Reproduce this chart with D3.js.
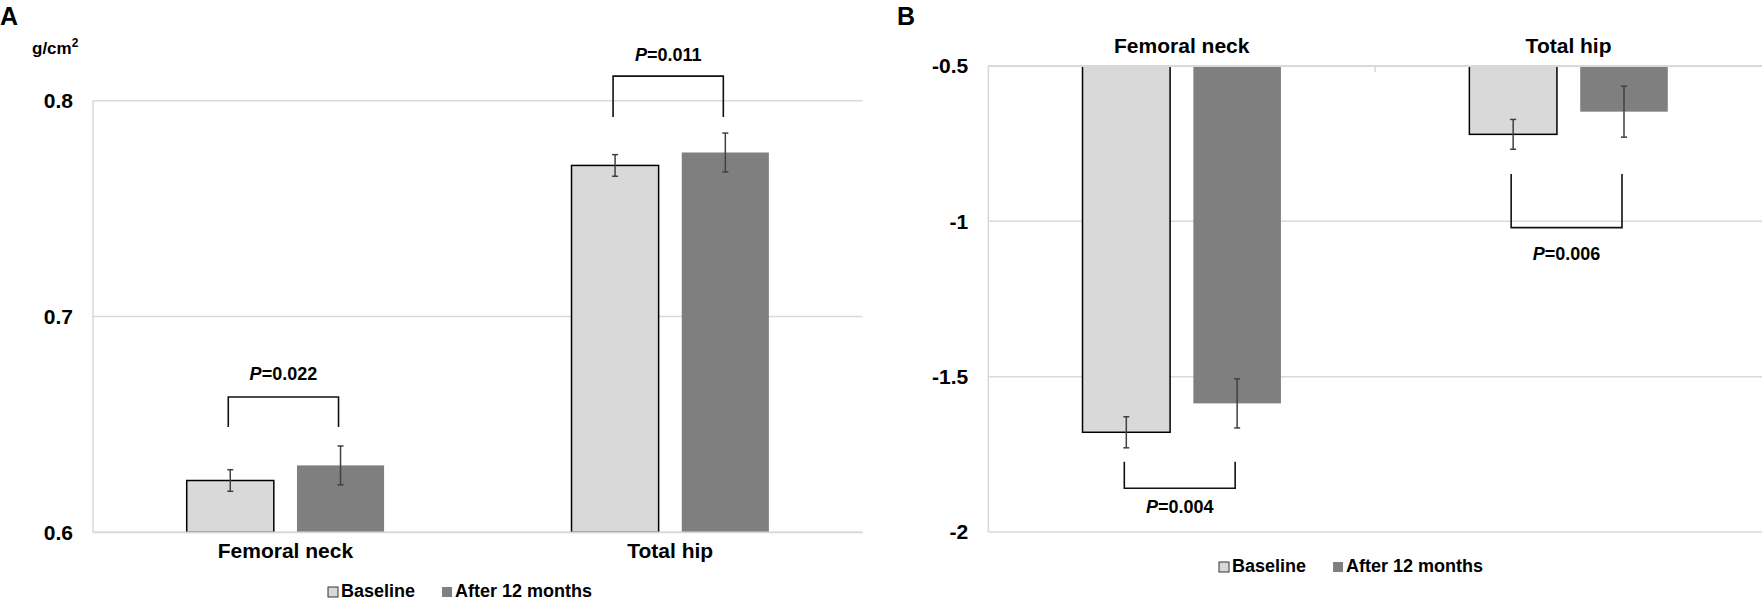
<!DOCTYPE html>
<html lang="en">
<head>
<meta charset="utf-8">
<style>
  body { margin: 0; background: #fff; }
  text { font-family: "Liberation Sans", Arial, sans-serif; font-weight: bold; fill: #000; }
</style>
</head>
<body>
<script type="text/javascript" src="https://d3js.org/d3.v7.min.js"></script>
<script>
    // data
    var categories = ["Femoral neck", "Total hip"];
    var series = ["Baseline", "After 12 months"];

    // A: BMD, g/cm2
    var bmdBaseline = [0.624, 0.770];
    var bmdAfter = [0.631, 0.776];
    var bmdBaselineErr = [0.005, 0.005];
    var bmdAfterErr = [0.009, 0.009];
    var pValuesA = ["0.022", "0.011"];
    var bracketTopA = [0.6627, 0.8114];
    var bracketLegA = [0.6488, 0.7925];
    var ticksA = [0.6, 0.7, 0.8];

    // B: T-score
    var tBaseline = [-1.679, -0.720];
    var tAfter = [-1.586, -0.647];
    var tBaselineErr = [0.050, 0.048];
    var tAfterErr = [0.079, 0.082];
    var pValuesB = ["0.004", "0.006"];
    var bracketLegB = [-1.7736, -0.8476];
    var bracketBottomB = [-1.859, -1.0204];
    var ticksB = [-0.5, -1, -1.5, -2];

    var colors = { "Baseline": "#d9d9d9", "After 12 months": "#7f7f7f" };
    var gridColor = "#d9d9d9";

    var width = 1763, height = 600;

    var svg = d3.select("body").append("svg")
        .attr("width", width)
        .attr("height", height);

    function rows(base, after, baseErr, afterErr) {
        var out = [];
        categories.forEach(function (c, i) {
            out.push({ cat: c, ser: series[0], v: base[i], e: baseErr[i] });
            out.push({ cat: c, ser: series[1], v: after[i], e: afterErr[i] });
        });
        return out;
    }

    function drawPanel(o) {
        var g = svg.append("g");
        var x0 = d3.scaleBand().domain(categories).range([o.left, o.right]);
        var x1 = d3.scaleBand().domain(series).range([0, x0.bandwidth()])
            .paddingInner(0.21).paddingOuter(0.85);
        var y = d3.scaleLinear().domain(o.domain).range([o.bottom, o.top]);
        var base = o.base;

        // gridlines
        g.append("g").selectAll("line")
            .data(o.ticks)
            .enter().append("line")
            .attr("x1", o.left).attr("x2", o.right)
            .attr("y1", function (d) { return y(d); })
            .attr("y2", function (d) { return y(d); })
            .attr("stroke", gridColor).attr("stroke-width", 1.5);

        // vertical axis line
        g.append("line")
            .attr("x1", o.left).attr("x2", o.left)
            .attr("y1", y(o.domain[1])).attr("y2", y(o.domain[0]))
            .attr("stroke", gridColor).attr("stroke-width", 1.5);

        // tick labels
        var yAxis = d3.axisLeft(y).tickValues(o.ticks).tickSize(0).tickPadding(20)
            .tickFormat(function (d) { return String(d); });
        var ya = g.append("g").attr("transform", "translate(" + o.left + ",0)").call(yAxis);
        ya.select(".domain").remove();
        ya.selectAll("text").style("font-size", "21px")
            .style("font-family", "Liberation Sans, Arial, sans-serif").style("font-weight", "bold");

        var data = rows(o.s0, o.s1, o.e0, o.e1);

        // bars
        g.append("g").selectAll("rect")
            .data(data)
            .enter().append("rect")
            .attr("x", function (d) { return x0(d.cat) + x1(d.ser); })
            .attr("width", x1.bandwidth())
            .attr("y", function (d) { return Math.min(y(d.v), y(base)); })
            .attr("height", function (d) { return Math.abs(y(d.v) - y(base)); })
            .attr("fill", function (d) { return colors[d.ser]; })
            .attr("stroke", function (d) { return d.ser === series[0] ? "#000" : "none"; })
            .attr("stroke-width", 1.5);

        // axis line at the base of bars
        g.append("line")
            .attr("x1", o.left).attr("x2", o.right)
            .attr("y1", y(base)).attr("y2", y(base))
            .attr("stroke", gridColor).attr("stroke-width", 1.8);

        if (o.midTick) {
            g.append("line")
                .attr("x1", x0(categories[1])).attr("x2", x0(categories[1]))
                .attr("y1", y(base)).attr("y2", y(base) + 6)
                .attr("stroke", gridColor).attr("stroke-width", 1.5);
        }

        // error bars
        var eb = g.append("g").attr("stroke", "#404040").attr("stroke-width", 1.5);
        data.forEach(function (d) {
            var cx = x0(d.cat) + x1(d.ser) + x1.bandwidth() / 2;
            eb.append("line").attr("x1", cx).attr("x2", cx)
                .attr("y1", y(d.v + d.e)).attr("y2", y(d.v - d.e));
            [d.v + d.e, d.v - d.e].forEach(function (v) {
                eb.append("line").attr("x1", cx - 3).attr("x2", cx + 3)
                    .attr("y1", y(v)).attr("y2", y(v));
            });
        });

        // category labels
        var xAxis = (o.labelsTop ? d3.axisTop(x0) : d3.axisBottom(x0))
            .tickSize(0).tickPadding(o.labelsTop ? 13 : 11);
        var xa = g.append("g")
            .attr("transform", "translate(0," + y(base) + ")")
            .call(xAxis);
        xa.select(".domain").remove();
        xa.selectAll("text").style("font-size", "21px")
            .style("font-family", "Liberation Sans, Arial, sans-serif").style("font-weight", "bold");

        // significance brackets
        categories.forEach(function (c, i) {
            var xa0 = x0(c) + x1(series[0]) + x1.bandwidth() / 2 - 2;
            var xa1 = x0(c) + x1(series[1]) + x1.bandwidth() / 2 - 2;
            var yl = y(o.bracketLeg[i]), yb = y(o.bracketBar[i]);
            g.append("path")
                .attr("d", "M" + xa0 + "," + yl + "V" + yb + "H" + xa1 + "V" + yl)
                .attr("fill", "none").attr("stroke", "#111").attr("stroke-width", 1.6);
            var t = g.append("text")
                .attr("x", (xa0 + xa1) / 2)
                .attr("y", yb + o.pOffset[i])
                .attr("text-anchor", "middle")
                .style("font-size", "18px");
            t.append("tspan").style("font-style", "italic").text("P");
            t.append("tspan").text("=" + o.p[i]);
        });

        // legend
        var lg = g.append("g").attr("transform", "translate(" + o.legendX + "," + o.legendY + ")");
        var lx = 0;
        series.forEach(function (s, i) {
            lg.append("rect")
                .attr("x", lx).attr("y", -10).attr("width", 10).attr("height", 10)
                .attr("fill", colors[s])
                .attr("stroke", i === 0 ? "#333" : "none").attr("stroke-width", 1);
            var t = lg.append("text").attr("x", lx + 13).attr("y", 0)
                .style("font-size", "18px").text(s);
            lx += 13 + t.node().getComputedTextLength() + 27;
        });
    }

    // panel A
    drawPanel({
        left: 93, right: 862.6, top: 100.7, bottom: 532.3,
        domain: [0.6, 0.8], ticks: ticksA, base: 0.6,
        s0: bmdBaseline, s1: bmdAfter, e0: bmdBaselineErr, e1: bmdAfterErr,
        bracketLeg: bracketLegA, bracketBar: bracketTopA, pOffset: [-17, -15],
        p: pValuesA, labelsTop: false, midTick: false,
        legendX: 328, legendY: 597
    });

    // panel B
    drawPanel({
        left: 988.3, right: 1762, top: 532, bottom: 66,
        domain: [-0.5, -2], ticks: ticksB, base: -0.5,
        s0: tBaseline, s1: tAfter, e0: tBaselineErr, e1: tAfterErr,
        bracketLeg: bracketLegB, bracketBar: bracketBottomB, pOffset: [25, 32],
        p: pValuesB, labelsTop: true, midTick: true,
        legendX: 1219, legendY: 572
    });

    // panel letters and unit
    svg.append("text").attr("x", 0).attr("y", 25).style("font-size", "25px").text("A");
    svg.append("text").attr("x", 897).attr("y", 25).style("font-size", "25px").text("B");
    var unit = svg.append("text").attr("x", 32).attr("y", 54).style("font-size", "17px");
    unit.append("tspan").text("g/cm");
    unit.append("tspan").attr("dy", -7).style("font-size", "12px").text("2");
</script>
</body>
</html>
